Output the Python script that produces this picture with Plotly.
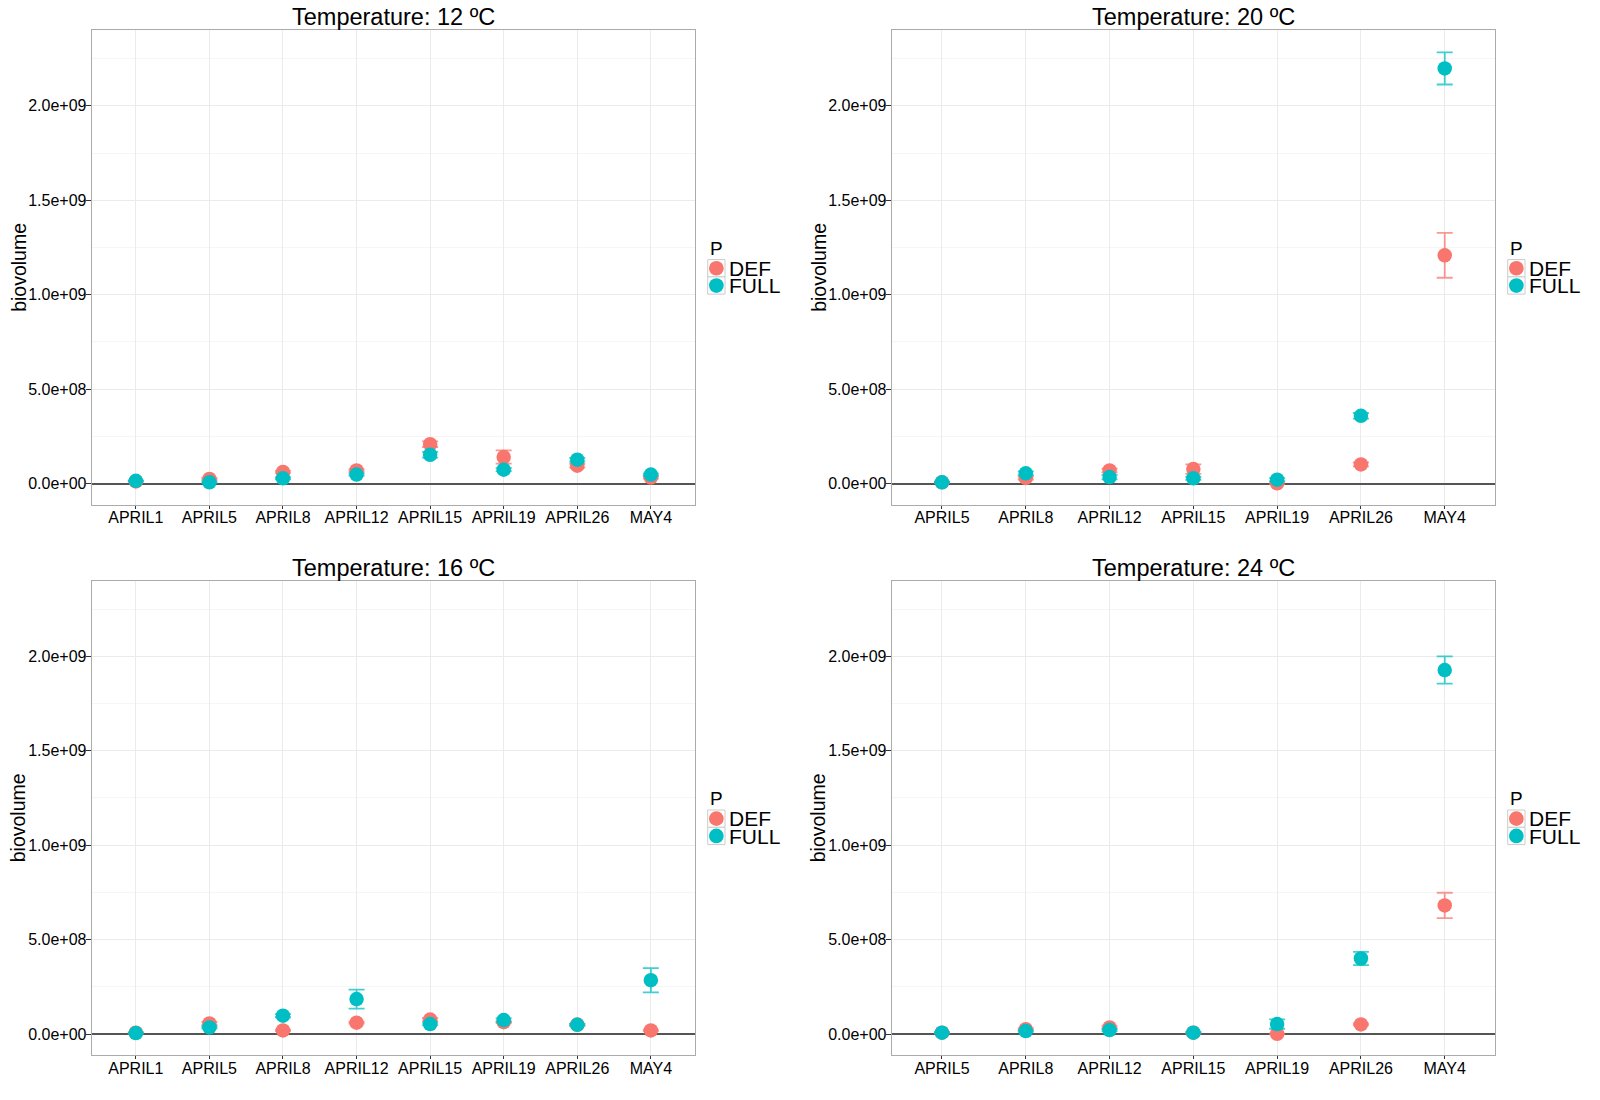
import plotly.graph_objects as go

# page body adds an 8px margin, so the figure is drawn 8px smaller and shifted
OFF = 8
W, H = 1600 - OFF, 1100 - OFF

dates_a = ["APRIL1", "APRIL5", "APRIL8", "APRIL12", "APRIL15", "APRIL19", "APRIL26", "MAY4"]
dates_b = ["APRIL5", "APRIL8", "APRIL12", "APRIL15", "APRIL19", "APRIL26", "MAY4"]

y_ticks = [0, 5e8, 1e9, 1.5e9, 2e9]
y_tick_labels = ["0.0e+00", "5.0e+08", "1.0e+09", "1.5e+09", "2.0e+09"]

# 12 ºC
t12_def = [1.2e7, 2.5e7, 6.2e7, 7.0e7, 2.09e8, 1.41e8, 9.5e7, 3.2e7]
t12_def_se = [3e6, 5e6, 6e6, 6e6, 1.5e7, 3.5e7, 1e7, 5e6]
t12_full = [1.5e7, 7e6, 2.8e7, 4.8e7, 1.53e8, 7.4e7, 1.27e8, 4.8e7]
t12_full_se = [2e6, 3e6, 5e6, 6e6, 1.5e7, 8e6, 1e7, 5e6]

# 20 ºC
t20_def = [7e6, 3.0e7, 7.0e7, 7.7e7, 2e6, 1.02e8, 1.209e9]
t20_def_se = [3e6, 8e6, 1e7, 2.5e7, 3e6, 1e7, 1.19e8]
t20_full = [7e6, 5.5e7, 3.5e7, 2.8e7, 2.1e7, 3.59e8, 2.198e9]
t20_full_se = [3e6, 1e7, 1.2e7, 8e6, 8e6, 1.5e7, 8.5e7]

# 16 ºC
t16_def = [7e6, 5.6e7, 1.9e7, 6.0e7, 7.7e7, 6.3e7, 5.0e7, 1.9e7]
t16_def_se = [3e6, 8e6, 3e6, 5e6, 8e6, 5e6, 4e6, 3e6]
t16_full = [5e6, 3.5e7, 9.7e7, 1.85e8, 5.3e7, 7.4e7, 4.9e7, 2.85e8]
t16_full_se = [3e6, 5e6, 8e6, 5e7, 6e6, 9e6, 5e6, 6.4e7]

# 24 ºC
t24_def = [7e6, 2.6e7, 3.5e7, 7e6, 1e6, 5.1e7, 6.81e8]
t24_def_se = [3e6, 5e6, 6e6, 3e6, 2e6, 5e6, 6.7e7]
t24_full = [7e6, 1.6e7, 2.1e7, 7e6, 5.3e7, 4.0e8, 1.927e9]
t24_full_se = [3e6, 4e6, 5e6, 3e6, 2.5e7, 3.5e7, 7.2e7]

panels = [
    ("Temperature: 12 ºC", dates_a, t12_def, t12_def_se, t12_full, t12_full_se),
    ("Temperature: 20 ºC", dates_b, t20_def, t20_def_se, t20_full, t20_full_se),
    ("Temperature: 16 ºC", dates_a, t16_def, t16_def_se, t16_full, t16_full_se),
    ("Temperature: 24 ºC", dates_b, t24_def, t24_def_se, t24_full, t24_full_se),
]
groups = ["DEF", "FULL"]

RED = "#F8766D"
TEAL = "#00BFC4"
FONT = "Liberation Sans, Arial, sans-serif"


def px(x):
    return (x - OFF) / W


def py(y):
    return 1 - (y - OFF) / H


# panel boxes on the page, in pixels
cols = [(91.7, 695), (891.7, 1495)]
rows = [(30.3, 505), (580.7, 1055.4)]

fig = go.Figure()
layout = dict(width=W, height=H, margin=dict(l=0, r=0, t=0, b=0),
              plot_bgcolor="white", paper_bgcolor="white", showlegend=False,
              font=dict(family=FONT, color="black"), annotations=[], shapes=[])

for i, (title, cats, d, dse, f, fse) in enumerate(panels):
    r, c = divmod(i, 2)
    x0, x1 = cols[c]
    top, bot = rows[r]
    n = "" if i == 0 else str(i + 1)

    for name, vals, se, col, rgba in [
        (groups[0], d, dse, RED, "rgba(248,118,109,0.75)"),
        (groups[1], f, fse, TEAL, "rgba(0,191,196,0.75)"),
    ]:
        fig.add_trace(go.Scatter(
            x=cats, y=vals, mode="markers", name=name,
            marker=dict(color=col, size=14.5),
            error_y=dict(type="data", array=se, color=rgba, thickness=1.8, width=8),
            xaxis="x" + n, yaxis="y" + n,
        ))

    layout["xaxis" + n] = dict(
        domain=[px(x0), px(x1)], anchor="y" + n,
        type="category", categoryorder="array", categoryarray=cats,
        range=[-0.6, len(cats) - 0.4],
        showline=True, mirror=True, linecolor="#ABABAB", linewidth=1,
        showgrid=True, gridcolor="#EBEBEB", gridwidth=1,
        ticks="outside", ticklen=3, tickcolor="#333333",
        ticklabelstandoff=-5,
        tickfont=dict(size=16, color="black"),
    )
    layout["yaxis" + n] = dict(
        domain=[py(bot), py(top)], anchor="x" + n,
        range=[-1.13e8, 2.40e9],
        tickvals=y_ticks, ticktext=y_tick_labels,
        showline=True, mirror=True, linecolor="#ABABAB", linewidth=1,
        showgrid=True, gridcolor="#EBEBEB", gridwidth=1,
        minor=dict(dtick=2.5e8, tick0=0, showgrid=True, gridcolor="#F6F6F6", gridwidth=1),
        zeroline=True, zerolinecolor="#555555", zerolinewidth=2,
        ticks="outside", ticklen=5, tickcolor="#333333",
        ticklabelstandoff=-4,
        tickfont=dict(size=16, color="black"),
    )

    # panel title and y-axis title
    layout["annotations"].append(dict(
        text=title, x=px((x0 + x1) / 2), y=py(top - 13),
        xref="paper", yref="paper", showarrow=False,
        font=dict(size=23.5), xanchor="center", yanchor="middle",
    ))
    layout["annotations"].append(dict(
        text="biovolume", x=px(x0 - 73.5), y=py((top + bot) / 2),
        xref="paper", yref="paper", showarrow=False, textangle=-90,
        font=dict(size=19.5), xanchor="center", yanchor="middle",
    ))

    # ggplot-style legend to the right of each panel
    lx = x1 + 12.7
    ly = top + 218
    layout["annotations"].append(dict(
        text="P", x=px(lx), y=py(ly), xref="paper", yref="paper",
        showarrow=False, xanchor="left", yanchor="middle", font=dict(size=19),
    ))
    for k, (name, col) in enumerate(zip(groups, [RED, TEAL])):
        by0 = ly + 11.3 + k * 17.3
        layout["shapes"].append(dict(
            type="rect", xref="paper", yref="paper",
            x0=px(lx), x1=px(lx + 17.3), y0=py(by0), y1=py(by0 + 17.3),
            line=dict(color="#CCCCCC", width=1), fillcolor="white",
        ))
        layout["shapes"].append(dict(
            type="circle", xref="paper", yref="paper",
            x0=px(lx + 1.3), x1=px(lx + 16), y0=py(by0 + 1.3), y1=py(by0 + 16),
            line=dict(width=0), fillcolor=col,
        ))
        layout["annotations"].append(dict(
            text=name, x=px(lx + 19.5), y=py(by0 + 8.8), xref="paper", yref="paper",
            showarrow=False, xanchor="left", yanchor="middle", font=dict(size=21),
        ))

fig.update_layout(**layout)
fig.write_html("out.html")
